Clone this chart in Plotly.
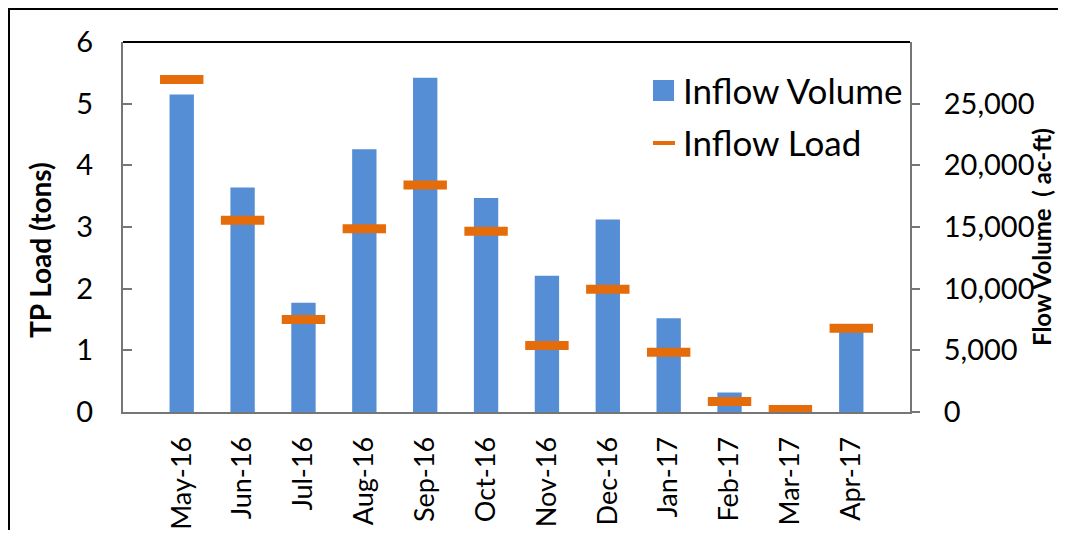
import plotly.graph_objects as go

months = ["May-16", "Jun-16", "Jul-16", "Aug-16", "Sep-16", "Oct-16",
          "Nov-16", "Dec-16", "Jan-17", "Feb-17", "Mar-17", "Apr-17"]
inflow_volume = [25750, 18200, 8850, 21300, 27100, 17350,
                 11050, 15600, 7600, 1580, 150, 6900]
inflow_load = [5.39, 3.11, 1.50, 2.97, 3.68, 2.93,
               1.08, 1.99, 0.97, 0.17, 0.04, 1.36]
vol_ticks = [0, 5000, 10000, 15000, 20000, 25000]
load_ticks = [0, 1, 2, 3, 4, 5, 6]

BLUE = "#558ED5"
ORANGE = "#E46C0A"
AXIS = "#767676"
FONT = "Lato"

# page is rendered with an 8px body margin
OFF = 8
PAGE_W, PAGE_H = 1066, 538
W, H = PAGE_W - 2 * OFF, PAGE_H - 2 * OFF
# plot area in page pixels
PL, PR, PT, PB = 123, 910, 42, 412
L, T = PL - OFF, PT - OFF
R, B = W - (PR - OFF), H - (PB - OFF)
pw, ph = W - L - R, H - T - B

def px(x):  # page x -> paper
    return (x - OFF - L) / pw

def py(y):  # page y -> paper
    return 1 - (y - OFF - T) / ph

fig = go.Figure()
fig.add_trace(go.Bar(x=months, y=inflow_volume, name="Inflow Volume",
                     marker=dict(color=BLUE, line=dict(width=0)),
                     width=0.4, yaxis="y", showlegend=False))
fig.add_trace(go.Scatter(x=months, y=inflow_load, name="Inflow Load",
                         mode="markers", yaxis="y2", showlegend=False,
                         marker=dict(symbol="line-ew", size=31,
                                     line=dict(width=9, color=ORANGE),
                                     color=ORANGE)))

fig.update_layout(
    width=W, height=H,
    margin=dict(l=L, r=R, t=T, b=B, autoexpand=False),
    paper_bgcolor="white", plot_bgcolor="white",
    font=dict(family=FONT, size=29, color="black"),
    xaxis=dict(type="category", showgrid=False, ticks="", automargin=False,
               tickangle=-90, showline=True, linecolor=AXIS, linewidth=2,
               tickfont=dict(size=27), ticklabelstandoff=12),
    yaxis=dict(side="right", range=[0, 30000], tickvals=vol_ticks,
               tickformat=",", showgrid=False, zeroline=False, automargin=False,
               showline=True, linecolor=AXIS, linewidth=2,
               ticks="outside", ticklen=8, tickwidth=2, tickcolor=AXIS,
               ticklabelstandoff=18, tickfont=dict(size=29)),
    yaxis2=dict(side="left", overlaying="y", range=[0, 6], tickvals=load_ticks,
                showgrid=False, zeroline=False, automargin=False,
                showline=True, linecolor=AXIS, linewidth=2,
                ticks="inside", ticklen=9, tickwidth=2, tickcolor=AXIS,
                ticklabelstandoff=22, tickfont=dict(size=29)),
)

shapes = []
# outer chart border
shapes.append(dict(type="rect", xref="paper", yref="paper",
                   x0=px(9), x1=px(PAGE_W + 20), y0=py(PAGE_H + 20), y1=py(9),
                   line=dict(color="black", width=2)))
# plot area top border
shapes.append(dict(type="line", xref="paper", yref="paper",
                   x0=0, x1=1, y0=1, y1=1, line=dict(color="black", width=2)))
# legend symbols
shapes.append(dict(type="rect", xref="paper", yref="paper",
                   x0=px(653), x1=px(674), y0=py(101), y1=py(80),
                   fillcolor=BLUE, line=dict(width=0)))
shapes.append(dict(type="line", xref="paper", yref="paper",
                   x0=px(653), x1=px(675), y0=py(143), y1=py(143),
                   line=dict(color=ORANGE, width=4)))
fig.update_layout(shapes=shapes)

fig.add_annotation(text="Inflow Volume", xref="paper", yref="paper",
                   x=px(681), y=py(90), xanchor="left", yanchor="middle",
                   showarrow=False, font=dict(size=35))
fig.add_annotation(text="Inflow Load", xref="paper", yref="paper",
                   x=px(681), y=py(142), xanchor="left", yanchor="middle",
                   showarrow=False, font=dict(size=35))
fig.add_annotation(text="<b>TP Load (tons)</b>", xref="paper", yref="paper",
                   x=px(40), y=py(250), xanchor="center", yanchor="middle",
                   textangle=-90, showarrow=False, font=dict(size=28))
fig.add_annotation(text="<b>Flow Volume  ( ac-ft)</b>", xref="paper", yref="paper",
                   x=px(1042), y=py(237), xanchor="center", yanchor="middle",
                   textangle=-90, showarrow=False, borderpad=0,
                   font=dict(size=24))

fig.write_html("out.html")
